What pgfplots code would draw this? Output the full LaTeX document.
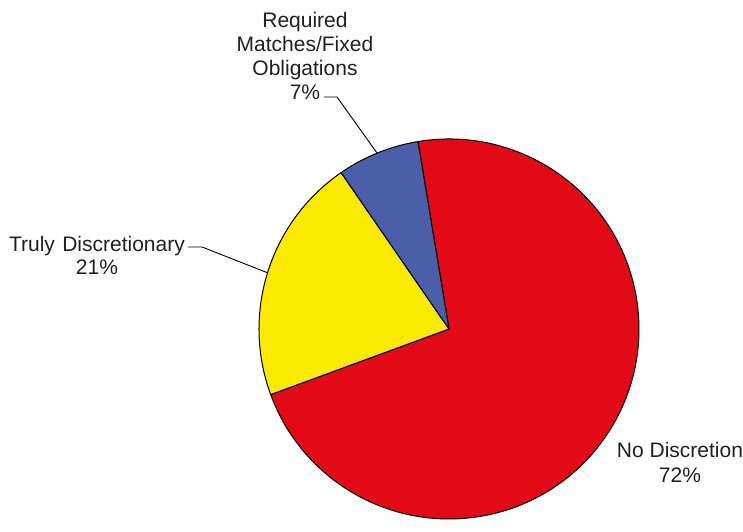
\documentclass[border=0pt]{standalone}
\usepackage{pgfplots}
\pgfplotsset{compat=1.18}
\usepackage{fontspec}
\setmainfont{Liberation Sans}
\definecolor{cRed}{RGB}{226,10,22}
\definecolor{cYel}{RGB}{250,234,0}
\definecolor{cBlue}{RGB}{75,94,170}
\definecolor{cTxt}{RGB}{35,31,32}
% data (percent)
\def\pNo{72}
\def\pTruly{21}
\def\pReq{7}
\def\startang{99.4}
\pgfmathsetmacro\aA{\startang-3.6*\pNo}
\pgfmathsetmacro\aB{\aA-3.6*\pTruly}
\pgfmathsetmacro\aC{\aB-3.6*\pReq}
\begin{document}
\begin{tikzpicture}
\begin{axis}[width=743bp,height=521bp,scale only axis,
  xmin=0,xmax=743,ymin=0,ymax=521,hide axis,clip=false]
\addplot[draw=none] coordinates {(0,0) (743,521)};
\filldraw[fill=cRed,draw=black,line width=1bp,line join=round]
  (axis cs:449,192) -- ++(\startang:190bp) arc[start angle=\startang,end angle=\aA,radius=190bp] -- cycle;
\filldraw[fill=cYel,draw=black,line width=1bp,line join=round]
  (axis cs:449,192) -- ++(\aA:190bp) arc[start angle=\aA,end angle=\aB,radius=190bp] -- cycle;
\filldraw[fill=cBlue,draw=black,line width=1bp,line join=round]
  (axis cs:449,192) -- ++(\aB:190bp) arc[start angle=\aB,end angle=\aC,radius=190bp] -- cycle;
\draw[black,line width=0.9bp] (axis cs:324,424) -- (axis cs:337,424) -- (axis cs:377,368);
\draw[black,line width=0.9bp] (axis cs:188,274) -- (axis cs:202,274) -- (axis cs:268,248);
\node[anchor=north,inner sep=0,align=center,text=cTxt,font=\fontsize{21bp}{24bp}\selectfont]
  at (axis cs:305,509) {Required\\Matches/Fixed\\Obligations\\7\%};
\node[anchor=north,inner sep=0,align=center,text=cTxt,font=\fontsize{21bp}{23bp}\selectfont]
  at (axis cs:97,284.5) {Truly\hspace{0.35em}Discretionary\\21\%};
\node[anchor=north,inner sep=0,align=center,text=cTxt,font=\fontsize{21bp}{25bp}\selectfont]
  at (axis cs:680,78.5) {No Discretion\\72\%};
\end{axis}
\end{tikzpicture}
\end{document}
